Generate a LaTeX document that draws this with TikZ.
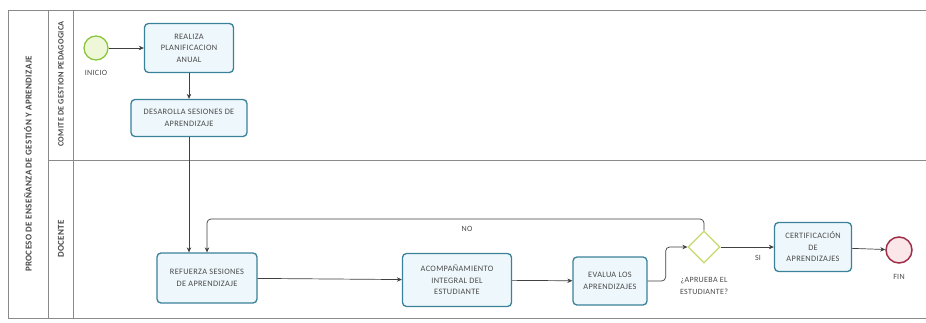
\documentclass[tikz,border=0pt]{standalone}
\usepackage{fontspec}
\setmainfont{Carlito}
\newfontfamily\spaced[LetterSpace=4]{Carlito}
\usetikzlibrary{arrows.meta,shapes.geometric,calc}
\definecolor{boxline}{HTML}{3A8299}
\definecolor{boxfill}{HTML}{EEF7FB}
\definecolor{txt}{HTML}{4A4A4A}
\definecolor{poolline}{HTML}{8A8A8A}
\definecolor{startline}{HTML}{8CC63F}
\definecolor{startfill}{HTML}{EEF8D8}
\definecolor{endline}{HTML}{A0304A}
\definecolor{endfill}{HTML}{FBE6EA}
\definecolor{gateline}{HTML}{C8D86A}
\begin{document}
\begin{tikzpicture}[x=1pt,y=-1pt,
  task/.style={draw=boxline, line width=1.3pt, fill=boxfill, rounded corners=4pt,
    text=txt, align=center, font=\spaced\fontsize{8.3}{11.5}\selectfont, inner sep=2pt},
  lbl/.style={text=txt, align=center, font=\spaced\fontsize{8}{11.5}\selectfont},
  lanelbl/.style={text=txt, font=\spaced\bfseries\fontsize{9}{10}\selectfont, rotate=90},
  flow/.style={draw=black!75, line width=0.7pt, -{Stealth[length=5pt,width=4.5pt]}},
  pool/.style={draw=poolline, line width=0.8pt}]
\useasboundingbox (0,0) rectangle (926,322);
\fill[white] (0,0) rectangle (926,322);
% pool and lanes
\draw[pool] (926,10) -- (8,10) -- (8,318) -- (926,318);
\draw[pool] (48,10) -- (48,318);
\draw[pool] (73,10) -- (73,318);
\draw[pool] (48,160) -- (926,160);
\node[lanelbl] (pooltitle) at (28,164) {PROCESO DE ENSEÑANZA DE GESTIÓN Y APRENDIZAJE};
\node[lanelbl, font=\spaced\bfseries\fontsize{8.2}{10}\selectfont] (lane1) at (61,84) {COMITE DE GESTION PEDAGOGICA};
\node[lanelbl] (lane2) at (61,239) {DOCENTE};
% events
\node[circle, draw=startline, fill=startfill, line width=1.3pt, minimum size=24pt, inner sep=0pt] (start) at (96,48) {};
\node[lbl] (startl) at (96,73) {INICIO};
\node[circle, draw=endline, fill=endfill, line width=1.5pt, minimum size=26pt, inner sep=0pt] (fin) at (899,250) {};
\node[lbl] (finl) at (899,277) {FIN};
% tasks
\node[task, minimum width=89pt, minimum height=49pt] (rea) at (189,48) {REALIZA\\PLANIFICACION\\ANUAL};
\node[task, minimum width=116pt, minimum height=37pt] (des) at (189,118) {DESAROLLA SESIONES DE\\APRENDIZAJE};
\node[task, minimum width=100pt, minimum height=50pt] (ref) at (207,278) {REFUERZA SESIONES\\DE APRENDIZAJE};
\node[task, minimum width=109pt, minimum height=53pt] (aco) at (457,280) {ACOMPAÑAMIENTO\\INTEGRAL DEL\\ESTUDIANTE};
\node[task, minimum width=74pt, minimum height=48pt] (eva) at (610,281) {EVALUA LOS\\APRENDIZAJES};
\node[task, minimum width=77pt, minimum height=49pt] (cer) at (813,247) {CERTIFICACIÓN\\DE\\APRENDIZAJES};
% gateway
\node[diamond, draw=gateline, line width=1.3pt, fill=white, minimum width=32pt, minimum height=32pt, inner sep=0pt] (dia) at (704,247) {};
\node[lbl] (dial) at (704,286) {¿APRUEBA EL\\ESTUDIANTE?};
% flows
\draw[flow] (start) -- (rea);
\draw[flow] (rea) -- (des);
\draw[flow] (des.south) -- (des.south |- ref.north);
\draw[flow] (ref) -- (aco);
\draw[flow] (aco) -- (eva);
\draw[flow, rounded corners=4pt] (eva.east) -- ++(18,0) |- (dia.west);
\coordinate (loop) at (207,219);
\draw[flow, rounded corners=4pt] (dia.north) |- (loop) -- (ref.north);
\node[lbl] (nol) at (467,229) {NO};
\draw[flow] (dia) -- (cer);
\node[lbl] (sil) at (758,258) {SI};
\draw[flow] (cer) -- (fin);
\end{tikzpicture}
\end{document}
